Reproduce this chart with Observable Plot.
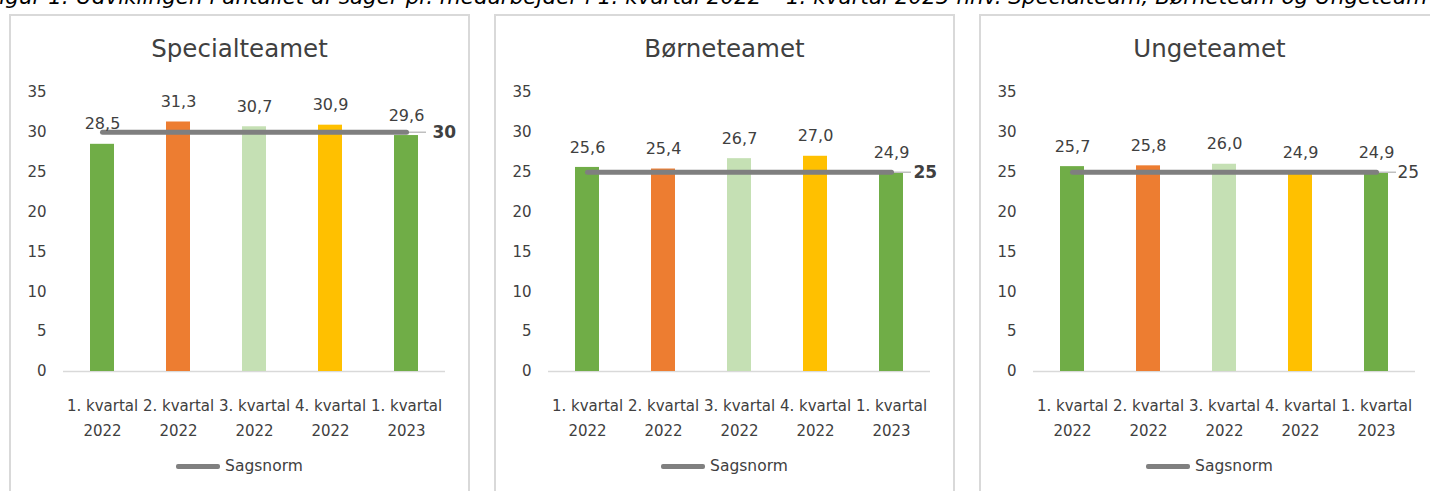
<!DOCTYPE html>
<html><head><meta charset="utf-8">
<script src="https://cdn.jsdelivr.net/npm/d3@7"></script>
<script src="https://cdn.jsdelivr.net/npm/@observablehq/plot@0.6"></script>
<style>
body{margin:0;background:#fff;width:1430px;height:491px;overflow:hidden;position:relative;font-family:"DejaVu Sans",sans-serif;color:#404040}
#caption{position:absolute;left:-13px;top:-15px;line-height:24px;white-space:nowrap;font-style:italic;font-size:21.5px;color:#000}
.panel{position:absolute;top:14px;width:457px;height:500px;border:2px solid #d9d9d9}
.title{position:absolute;left:0;right:0;top:19px;line-height:28px;text-align:center;font-size:24.5px;color:#404040}
.legend{position:absolute;left:0;right:0;top:440px;height:20px;display:flex;justify-content:center;align-items:center;font-size:15.5px;color:#404040}
.swatch{width:44px;height:5px;background:#808080;border-radius:2px;margin-right:5px}
.panel svg{position:absolute;left:0;top:40px}
</style>
</head><body>
<div id="caption">Figur 1: Udviklingen i antallet af sager pr. medarbejder i 1. kvartal 2022 – 1. kvartal 2023 hhv. Specialteam, Børneteam og Ungeteam</div>
<div id="root"></div>
<script>
const quarters = ["1. kvartal 2022","2. kvartal 2022","3. kvartal 2022","4. kvartal 2022","1. kvartal 2023"];
const barColors = ["#70ad47","#ed7d31","#c5e0b4","#ffc000","#70ad47"];
const teams = ["Specialteamet","Børneteamet","Ungeteamet"];
const specialValues = [28.5,31.3,30.7,30.9,29.6];
const boerneValues = [25.6,25.4,26.7,27.0,24.9];
const ungeValues = [25.7,25.8,26.0,24.9,24.9];
const sagsnorm = [30,25,25];
const yTicks = [0,5,10,15,20,25,30,35];
const legendLabel = "Sagsnorm";

const panelLefts = [9, 494, 979];
const normBold = [true, true, false];
const normDx = [26, 22, 21];
const allValues = [specialValues, boerneValues, ungeValues];

function chart(values, norm, bold, dx) {
  const data = quarters.map((q, i) => ({q, v: values[i], c: barColors[i]}));
  const normData = quarters.map(q => ({q, v: norm}));
  const leader = [{a: quarters[3], b: quarters[4], v: norm}];
  return Plot.plot({
    width: 457, height: 380,
    marginLeft: 52, marginRight: 23, marginTop: 36, marginBottom: 65,
    style: {fontFamily: "DejaVu Sans", fontSize: "15px", color: "#404040", background: "transparent", overflow: "visible"},
    x: {domain: quarters, paddingInner: 0.68, paddingOuter: 0.34, label: null},
    y: {domain: [0, 35], label: null},
    color: {type: "identity"},
    marks: [
      Plot.axisY({ticks: yTicks, tickSize: 0, tickPadding: 17, fontSize: 15, label: null, fill: "#404040", tickFormat: d => String(d)}),
      Plot.axisX({tickSize: 0, tickPadding: 22, lineHeight: 1.67, fontSize: 15, label: null, fill: "#404040", tickFormat: d => d.replace(" 20", "\n20")}),
      Plot.ruleY([0], {stroke: "#d9d9d9", strokeWidth: 1.5}),
      Plot.barY(data, {x: "q", y: "v", fill: "c"}),
      Plot.ruleY(leader, {y: "v", x1: "a", x2: "b", stroke: "#bfbfbf", strokeWidth: 1.5, insetLeft: 12, insetRight: -8}),
      Plot.lineY(normData, {x: "q", y: "v", stroke: "#7f7f7f", strokeWidth: 5, strokeLinecap: "round"}),
      Plot.text(data, {x: "q", y: "v", text: d => d.v.toFixed(1).replace(".", ","), dy: -20, fontSize: 16, fill: "#404040"}),
      Plot.text([normData[4]], {x: "q", y: "v", text: d => String(d.v), dx, textAnchor: "start", fontSize: 17, fontWeight: bold ? "bold" : "normal", fill: "#404040"})
    ]
  });
}

const root = document.getElementById("root");
teams.forEach((t, k) => {
  const p = document.createElement("div");
  p.className = "panel";
  p.style.left = panelLefts[k] + "px";
  const title = document.createElement("div");
  title.className = "title";
  title.textContent = t;
  p.appendChild(title);
  p.appendChild(chart(allValues[k], sagsnorm[k], normBold[k], normDx[k]));
  const lg = document.createElement("div");
  lg.className = "legend";
  const sw = document.createElement("span");
  sw.className = "swatch";
  const lt = document.createElement("span");
  lt.textContent = legendLabel;
  lg.appendChild(sw); lg.appendChild(lt);
  p.appendChild(lg);
  root.appendChild(p);
});
</script>
</body></html>
